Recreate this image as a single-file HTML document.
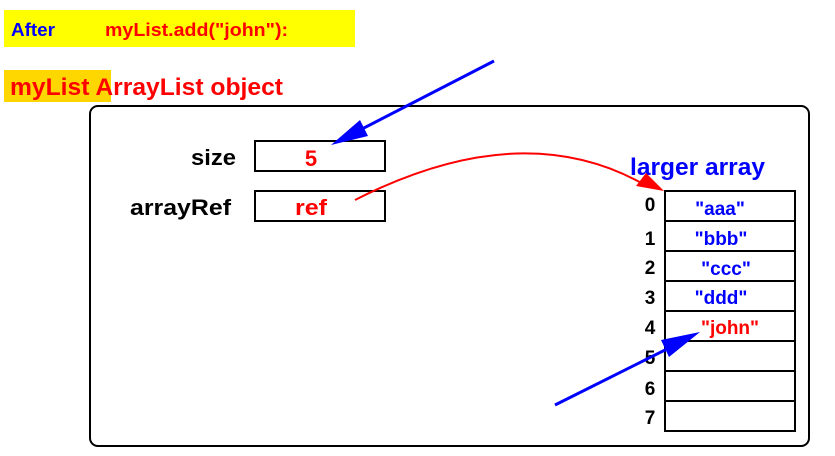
<!DOCTYPE html>
<html><head><meta charset="utf-8"><style>
html,body{margin:0;padding:0;background:#fff;}
svg{display:block;}
text{font-family:"Liberation Sans",Arial,sans-serif;font-weight:bold;}
</style></head><body>
<svg width="835" height="456" viewBox="0 0 835 456" xmlns="http://www.w3.org/2000/svg">
<defs>
<marker id="bh" markerWidth="10" markerHeight="8" refX="10" refY="4" orient="auto" markerUnits="userSpaceOnUse" viewBox="0 0 10 8"><path d="M0,0 L10,4 L0,8 Z" fill="#0000ff"/></marker>
</defs>
<rect x="4" y="10" width="351" height="37" fill="#ffff00"/>
<text x="11" y="36" font-size="18" fill="#0000ff" textLength="44" lengthAdjust="spacingAndGlyphs">After</text>
<text x="105" y="36" font-size="18" fill="#ff0000" textLength="183" lengthAdjust="spacingAndGlyphs">myList.add("john"):</text>
<rect x="4" y="70" width="107" height="32" fill="#ffd700"/>
<text x="10" y="95" font-size="24" fill="#ff0000" textLength="273" lengthAdjust="spacingAndGlyphs">myList ArrayList object</text>
<rect x="90" y="106" width="719" height="340" rx="8" fill="none" stroke="#000" stroke-width="2"/>
<text x="236" y="165" font-size="22" fill="#000" text-anchor="end" font-weight="normal" style="font-weight:bold" textLength="45" lengthAdjust="spacingAndGlyphs">size</text>
<rect x="255" y="141" width="130" height="30" fill="none" stroke="#000" stroke-width="2"/>
<text x="311" y="166" font-size="22" fill="#ff0000" text-anchor="middle">5</text>
<text x="231" y="215" font-size="22" fill="#000" text-anchor="end" textLength="101" lengthAdjust="spacingAndGlyphs">arrayRef</text>
<rect x="255" y="191" width="130" height="30" fill="none" stroke="#000" stroke-width="2"/>
<text x="311" y="215" font-size="22" fill="#ff0000" text-anchor="middle" textLength="32" lengthAdjust="spacingAndGlyphs">ref</text>
<text x="630" y="175" font-size="24" fill="#0000ff" textLength="135" lengthAdjust="spacingAndGlyphs">larger array</text>
<g stroke="#000" stroke-width="2" fill="none">
<rect x="665" y="191" width="130" height="240"/>
<line x1="665" y1="221" x2="795" y2="221"/><line x1="665" y1="251" x2="795" y2="251"/>
<line x1="665" y1="281" x2="795" y2="281"/><line x1="665" y1="311" x2="795" y2="311"/>
<line x1="665" y1="341" x2="795" y2="341"/><line x1="665" y1="371" x2="795" y2="371"/>
<line x1="665" y1="401" x2="795" y2="401"/>
</g>
<g font-size="19" fill="#000" text-anchor="middle">
<text x="650" y="211">0</text><text x="650" y="245">1</text><text x="650" y="274">2</text>
<text x="650" y="304">3</text><text x="650" y="334">4</text><text x="650" y="364">5</text>
<text x="650" y="395">6</text><text x="650" y="424">7</text>
</g>
<g font-size="19" fill="#0000ff" text-anchor="middle">
<text x="720" y="215">"aaa"</text><text x="721" y="245">"bbb"</text>
<text x="726" y="275">"ccc"</text><text x="721" y="304">"ddd"</text>
</g>
<text x="730" y="334" font-size="19" fill="#ff0000" text-anchor="middle">"john"</text>
<path d="M355,200 Q522,115 645,185" fill="none" stroke="#ff0000" stroke-width="2"/>
<path d="M664,191 L636,186 L646,173 Z" fill="#ff0000"/>
<line x1="494" y1="61" x2="360" y2="130" stroke="#0000ff" stroke-width="3"/>
<path d="M331,145 L360,120 L368,136 Z" fill="#0000ff"/>
<line x1="555" y1="405" x2="675" y2="345" stroke="#0000ff" stroke-width="3"/>
<path d="M700,332 L669,357 L661,340 Z" fill="#0000ff"/>
</svg>
</body></html>
